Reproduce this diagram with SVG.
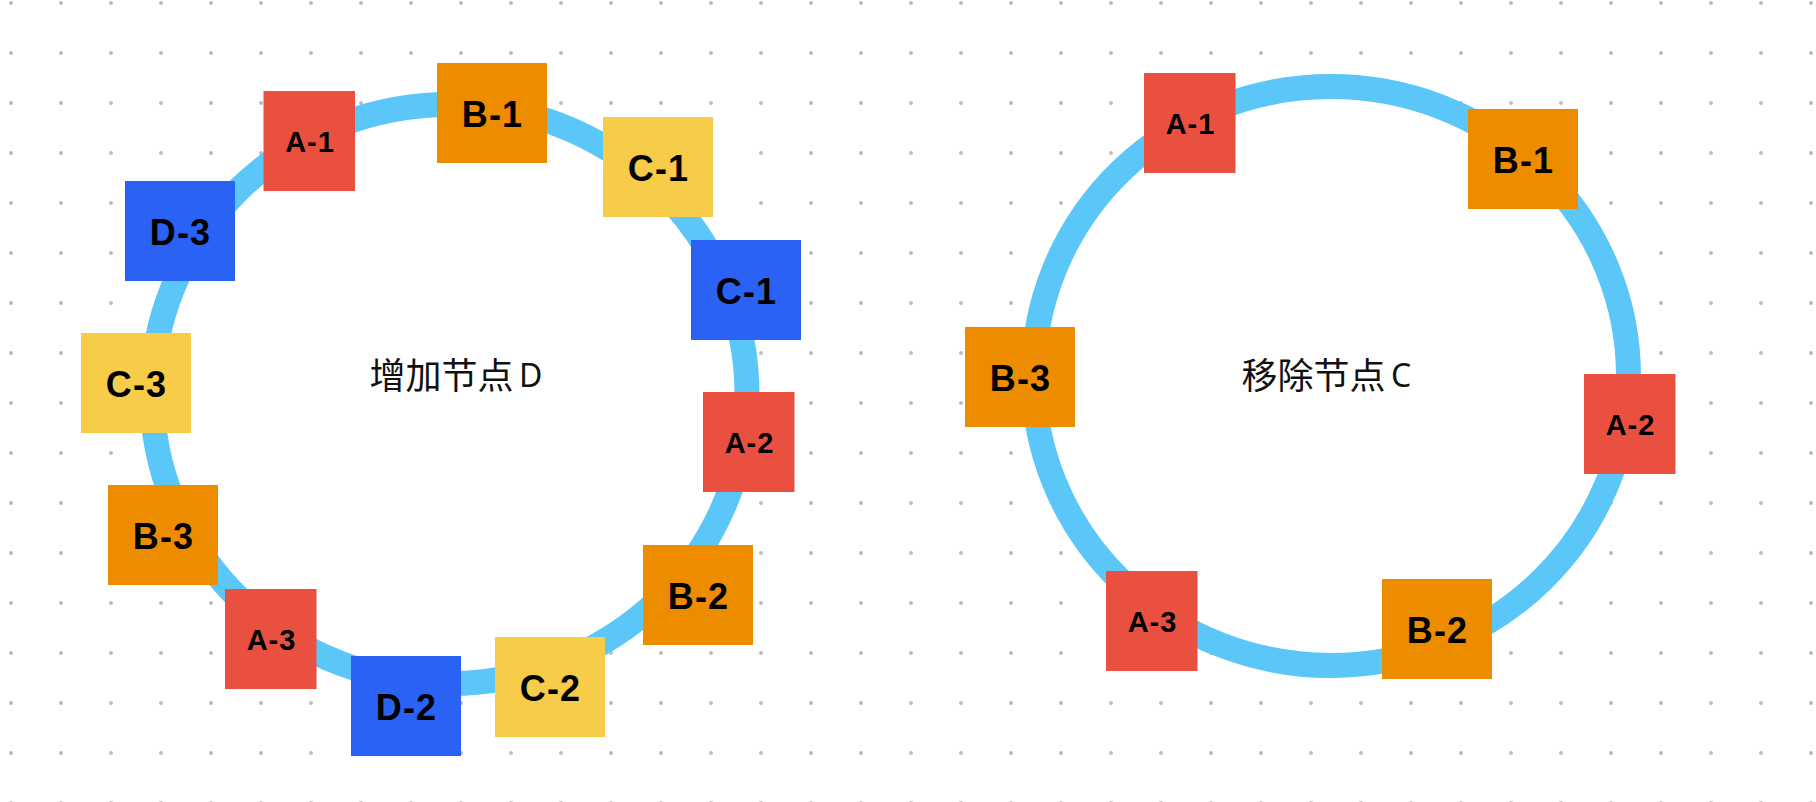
<svg xmlns="http://www.w3.org/2000/svg" width="1816" height="802" viewBox="0 0 1816 802">
<style>
.ring{fill:#ffffff;stroke:#5BC6F8;stroke-width:25}
.red{fill:#EA503F}
.orange{fill:#EE8C00}
.yellow{fill:#F7CC48}
.blue{fill:#2962F5}
.lbl{font-family:"Liberation Sans",Arial,sans-serif;font-weight:700;font-size:36px;text-anchor:middle;fill:#000;letter-spacing:1.2px}
.lbl.a{font-size:29px;letter-spacing:1px}
.title{font-family:"Noto Sans CJK SC","Noto Sans",sans-serif;font-size:36px;fill:#111}
.latin{font-family:"Noto Sans","Liberation Sans",sans-serif;font-size:32px}
</style>
<defs>
<pattern id="dots" x="-14" y="-22" width="50" height="50" patternUnits="userSpaceOnUse">
<circle cx="25" cy="25" r="2" fill="#BDBDBD"/>
</pattern>
</defs>
<rect x="0" y="0" width="1816" height="802" fill="#ffffff"/>
<rect x="0" y="0" width="1816" height="802" fill="url(#dots)"/>

<g id="connectors">
<ellipse class="ring" cx="449.5" cy="394" rx="297.5" ry="289.5"/>
<ellipse class="ring" cx="1331" cy="376" rx="297.5" ry="289.5"/>
</g>

<g id="title-left"><text class="title" x="369.5" y="389">增加节点<tspan class="latin" x="519" y="387">D</tspan></text></g>
<g id="title-right"><text class="title" x="1241.5" y="389">移除节点<tspan class="latin" x="1391" y="387">C</tspan></text></g>

<g id="L-A-1"><rect class="red" x="263.5" y="91" width="91.5" height="100"/><text class="lbl a" x="310" y="152">A-1</text></g>
<g id="L-B-1"><rect class="orange" x="437" y="63" width="110" height="100"/><text class="lbl" x="492.5" y="127">B-1</text></g>
<g id="L-C-1a"><rect class="yellow" x="603" y="117" width="110" height="100"/><text class="lbl" x="658.5" y="181">C-1</text></g>
<g id="L-D-3"><rect class="blue" x="125" y="181" width="110" height="100"/><text class="lbl" x="180.5" y="245">D-3</text></g>
<g id="L-C-1b"><rect class="blue" x="691" y="240" width="110" height="100"/><text class="lbl" x="746.5" y="304">C-1</text></g>
<g id="L-C-3"><rect class="yellow" x="81" y="333" width="110" height="100"/><text class="lbl" x="136.5" y="397">C-3</text></g>
<g id="L-A-2"><rect class="red" x="703" y="392" width="91.5" height="100"/><text class="lbl a" x="749.5" y="453">A-2</text></g>
<g id="L-B-3"><rect class="orange" x="108" y="485" width="110" height="100"/><text class="lbl" x="163.5" y="549">B-3</text></g>
<g id="L-A-3"><rect class="red" x="225" y="589" width="91.5" height="100"/><text class="lbl a" x="271.5" y="650">A-3</text></g>
<g id="L-D-2"><rect class="blue" x="351" y="656" width="110" height="100"/><text class="lbl" x="406.5" y="720">D-2</text></g>
<g id="L-C-2"><rect class="yellow" x="495" y="637" width="110" height="100"/><text class="lbl" x="550.5" y="701">C-2</text></g>
<g id="L-B-2"><rect class="orange" x="643" y="545" width="110" height="100"/><text class="lbl" x="698.5" y="609">B-2</text></g>

<g id="R-A-1"><rect class="red" x="1144" y="73" width="91.5" height="100"/><text class="lbl a" x="1190.5" y="134">A-1</text></g>
<g id="R-B-1"><rect class="orange" x="1468" y="109" width="110" height="100"/><text class="lbl" x="1523.5" y="173">B-1</text></g>
<g id="R-B-3"><rect class="orange" x="965" y="327" width="110" height="100"/><text class="lbl" x="1020.5" y="391">B-3</text></g>
<g id="R-A-2"><rect class="red" x="1584" y="374" width="91.5" height="100"/><text class="lbl a" x="1630.5" y="435">A-2</text></g>
<g id="R-A-3"><rect class="red" x="1106" y="571" width="91.5" height="100"/><text class="lbl a" x="1152.5" y="632">A-3</text></g>
<g id="R-B-2"><rect class="orange" x="1382" y="579" width="110" height="100"/><text class="lbl" x="1437.5" y="643">B-2</text></g>
</svg>
